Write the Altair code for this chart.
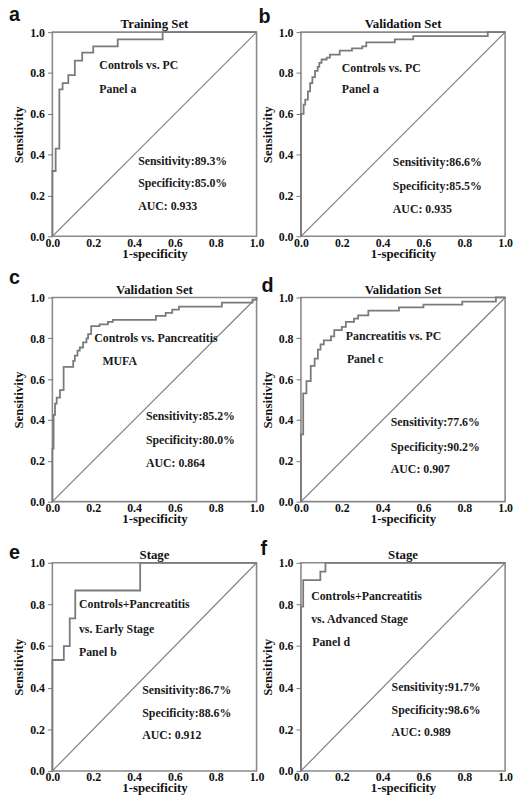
import altair as alt
import pandas as pd

LETTERS = ["a", "b", "c", "d", "e", "f"]
TITLES = ["Training Set", "Validation Set", "Validation Set", "Validation Set", "Stage", "Stage"]

# ROC step curves: x of each vertical jump and sensitivity level reached
A_FPR = [0, 0.016, 0.034, 0.05, 0.078, 0.11, 0.146, 0.20, 0.32, 0.54]
A_TPR = [0.32, 0.43, 0.72, 0.75, 0.79, 0.86, 0.90, 0.93, 0.965, 1.0]
B_FPR = [0, 0.013, 0.021, 0.034, 0.045, 0.056, 0.069, 0.082, 0.09, 0.101, 0.126, 0.142,
         0.19, 0.25, 0.30, 0.32, 0.46, 0.55, 0.915]
B_TPR = [0.60, 0.645, 0.67, 0.71, 0.75, 0.78, 0.81, 0.83, 0.85, 0.866, 0.875, 0.89,
         0.91, 0.92, 0.93, 0.95, 0.965, 0.98, 1.0]
C_FPR = [0, 0.006, 0.013, 0.021, 0.037, 0.055, 0.102, 0.11, 0.123, 0.134, 0.15, 0.167,
         0.175, 0.19, 0.231, 0.272, 0.296, 0.507, 0.555, 0.587, 0.62, 0.83, 0.98]
C_TPR = [0.26, 0.425, 0.48, 0.51, 0.546, 0.66, 0.69, 0.715, 0.74, 0.755, 0.78, 0.80,
         0.82, 0.86, 0.868, 0.88, 0.89, 0.91, 0.925, 0.94, 0.955, 0.975, 0.99]
D_FPR = [0, 0.011, 0.027, 0.048, 0.067, 0.083, 0.096, 0.112, 0.147, 0.163, 0.20, 0.22,
         0.26, 0.28, 0.33, 0.48, 0.60, 0.79, 0.955]
D_TPR = [0.33, 0.53, 0.59, 0.665, 0.70, 0.745, 0.77, 0.79, 0.81, 0.84, 0.856, 0.88,
         0.896, 0.912, 0.936, 0.952, 0.965, 0.98, 1.0]
E_FPR = [0, 0.056, 0.085, 0.112, 0.43]
E_TPR = [0.533, 0.60, 0.733, 0.867, 1.0]
F_FPR = [0, 0.011, 0.095, 0.12]
F_TPR = [0.79, 0.917, 0.958, 1.0]

FPRS = [A_FPR, B_FPR, C_FPR, D_FPR, E_FPR, F_FPR]
TPRS = [A_TPR, B_TPR, C_TPR, D_TPR, E_TPR, F_TPR]

NOTES = [
    ["Controls vs. PC", "Panel a"],
    ["Controls vs. PC", "Panel a"],
    ["Controls vs. Pancreatitis", "MUFA"],
    ["Pancreatitis vs. PC", "Panel c"],
    ["Controls+Pancreatitis", "vs. Early Stage", "Panel b"],
    ["Controls+Pancreatitis", " vs. Advanced Stage", "Panel d"],
]
NOTES_X = [[0.23, 0.23], [0.20, 0.20], [0.205, 0.245], [0.22, 0.225],
           [0.13, 0.13, 0.13], [0.05, 0.05, 0.055]]
NOTES_Y = [[0.84, 0.72], [0.826, 0.72], [0.80, 0.69], [0.81, 0.70],
           [0.80, 0.68, 0.57], [0.84, 0.73, 0.62]]

SENS = [89.3, 86.6, 85.2, 77.6, 86.7, 91.7]
SPEC = [85.0, 85.5, 80.0, 90.2, 88.6, 98.6]
AUC = [0.933, 0.935, 0.864, 0.907, 0.912, 0.989]
STAT_X = [0.42, 0.45, 0.458, 0.44, 0.44, 0.444]
STAT_Y = [[0.37, 0.26, 0.15], [0.364, 0.246, 0.134], [0.418, 0.30, 0.19],
          [0.39, 0.266, 0.158], [0.39, 0.28, 0.17], [0.405, 0.294, 0.187]]

LETTER_X = [-44, -43, -44, -40, -44, -41]
LETTER_Y = [-11, -9, -14, -6, -4, -8]

TICKS = [0, 0.2, 0.4, 0.6, 0.8, 1.0]
SERIF = "Liberation Serif"
W = 207
HEIGHTS = [207, 207, 207, 207, 211, 211]


def roc_frame(fpr, tpr):
    xs, ys, prev = [0.0], [0.0], 0.0
    for fx, ty in zip(fpr, tpr):
        xs += [fx, fx]
        ys += [prev, ty]
        prev = ty
    if prev < 1.0:
        xs.append(1.0)
        ys.append(prev)
    xs.append(1.0)
    ys.append(1.0)
    return pd.DataFrame({"x": xs, "y": ys, "i": list(range(len(xs)))})


xscale = alt.Scale(domain=[0, 1], nice=False, zero=False)
yscale = alt.Scale(domain=[0, 1], nice=False, zero=False)

xaxis = alt.Axis(values=TICKS, format=".1f", title="1-specificity", ticks=False,
                 labelPadding=1, labelFlush=False, titleY=11, titleFontSize=13)
yaxis = alt.Axis(values=TICKS, format=".1f", title="Sensitivity", tickSize=5,
                 labelPadding=3, labelFlush=False, titleX=-27, titleFontSize=13,
                 tickColor="#777777")


def panel(k):
    curve = alt.Chart(roc_frame(FPRS[k], TPRS[k])).mark_line(
        color="#7a7a7a", strokeWidth=1.8
    ).encode(
        x=alt.X("x:Q", scale=xscale, axis=xaxis),
        y=alt.Y("y:Q", scale=yscale, axis=yaxis),
        order=alt.Order("i:Q"),
    )
    diag = alt.Chart(pd.DataFrame({"x": [0.0, 1.0], "y": [0.0, 1.0]})).mark_line(
        color="#7f7f7f", strokeWidth=1.2
    ).encode(x="x:Q", y="y:Q")
    notes = alt.Chart(pd.DataFrame({"x": NOTES_X[k], "y": NOTES_Y[k], "t": NOTES[k]})).mark_text(
        align="left", baseline="middle", font=SERIF, fontWeight="bold", fontSize=12,
        color="#1a1a1a"
    ).encode(x="x:Q", y="y:Q", text="t:N")
    stats_text = [f"Sensitivity:{SENS[k]:.1f}%", f"Specificity:{SPEC[k]:.1f}%",
                  f"AUC: {AUC[k]:.3f}"]
    stats = alt.Chart(pd.DataFrame({"x": [STAT_X[k]] * 3, "y": STAT_Y[k], "t": stats_text})).mark_text(
        align="left", baseline="middle", font=SERIF, fontWeight="bold", fontSize=12,
        color="#1a1a1a"
    ).encode(x="x:Q", y="y:Q", text="t:N")
    letter = alt.Chart(pd.DataFrame({"t": [LETTERS[k]]})).mark_text(
        align="left", baseline="alphabetic", font="Liberation Sans", fontWeight="bold",
        fontSize=20, color="#111111"
    ).encode(x=alt.value(LETTER_X[k]), y=alt.value(LETTER_Y[k]), text="t:N")
    title = alt.Chart(pd.DataFrame({"t": [TITLES[k]]})).mark_text(
        align="center", baseline="alphabetic", font=SERIF, fontWeight="bold",
        fontSize=13, color="#111111"
    ).encode(x=alt.value(W / 2), y=alt.value(-4), text="t:N")
    return alt.layer(diag, curve, notes, stats, letter, title).properties(
        width=W, height=HEIGHTS[k],
    )


chart = alt.concat(
    *[panel(k) for k in range(6)], columns=2,
    spacing={"row": 62, "column": 45},
).properties(
    bounds="flush", padding={"top": -9, "left": 0, "right": 0, "bottom": 0}
).configure_view(
    stroke="#8a8a8a", strokeWidth=1.6
).configure_axis(
    labelFont=SERIF, labelFontWeight="bold", labelFontSize=12, labelColor="#111111",
    titleFont=SERIF, titleFontWeight="bold", titleColor="#111111",
    domain=False, grid=False
)

chart.save("out.html", embed_options={"renderer": "svg", "actions": False})
